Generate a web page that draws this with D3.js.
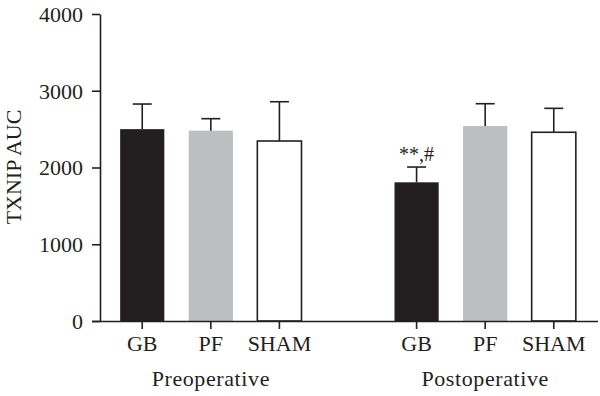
<!DOCTYPE html>
<html>
<head>
<meta charset="utf-8">
<script src="https://cdn.jsdelivr.net/npm/d3@7"></script>
<style>
  body { margin: 0; background: #fff; }
  text { font-family: "Liberation Serif", "DejaVu Serif", serif; fill: #231f20; }
</style>
</head>
<body>
<script>
// data
var groups = ['Preoperative', 'Postoperative'];
var treatments = ['GB', 'PF', 'SHAM'];
var preMeans = [2500, 2480, 2345];
var preErr = [2827, 2636, 2857];
var postMeans = [1807, 2541, 2459];
var postErr = [2006, 2831, 2771];
var yTicks = [0, 1000, 2000, 3000, 4000];
var fills = ['#231f20', '#bcbec0', '#ffffff'];

var ink = '#231f20';

var rows = [];
treatments.forEach(function (t, i) {
    rows.push({ key: 'pre-' + t, label: t, mean: preMeans[i], top: preErr[i], fill: fills[i], group: 0 });
});
var slots = rows.map(function (d) { return d.key; });
slots.push('gap');
treatments.forEach(function (t, i) {
    rows.push({ key: 'post-' + t, label: t, mean: postMeans[i], top: postErr[i], fill: fills[i], group: 1 });
    slots.push('post-' + t);
});

var svg = d3.select('body').append('svg')
    .attr('width', 600)
    .attr('height', 396);

var x = d3.scaleBand()
    .domain(slots)
    .range([98, 598])
    .paddingInner(0.356)
    .paddingOuter(0.323);

var y = d3.scaleLinear()
    .domain([0, 4000])
    .range([321, 14]);

// bars
svg.selectAll('rect.bar')
    .data(rows)
    .enter().append('rect')
    .attr('class', 'bar')
    .attr('x', function (d) { return x(d.key); })
    .attr('y', function (d) { return y(d.mean); })
    .attr('width', x.bandwidth())
    .attr('height', function (d) { return y(0) - y(d.mean); })
    .attr('fill', function (d) { return d.fill; })
    .attr('stroke', function (d) { return d.fill === '#ffffff' ? ink : 'none'; })
    .attr('stroke-width', 1.6);

// error bars (upper only)
var cap = 9.5;
rows.forEach(function (d) {
    var cx = x(d.key) + x.bandwidth() / 2;
    svg.append('line')
        .attr('x1', cx).attr('x2', cx)
        .attr('y1', y(d.mean)).attr('y2', y(d.top))
        .attr('stroke', ink).attr('stroke-width', 1.6);
    svg.append('line')
        .attr('x1', cx - cap).attr('x2', cx + cap)
        .attr('y1', y(d.top)).attr('y2', y(d.top))
        .attr('stroke', ink).attr('stroke-width', 1.6);
});

// significance mark
var gb = rows[3];
svg.append('text')
    .attr('x', x(gb.key) + x.bandwidth() / 2)
    .attr('y', y(gb.top) - 6)
    .attr('text-anchor', 'middle')
    .style('font-size', '20px')
    .text('**,#');

// y axis
var yAxis = svg.append('g')
    .attr('transform', 'translate(100,0)')
    .call(d3.axisLeft(y).tickValues(yTicks).tickSize(8).tickSizeOuter(0).tickFormat(d3.format('d')));
yAxis.selectAll('text').style('font-size', '22px').attr('x', -17).attr('dy', '0.34em');

// x axis
var xAxis = svg.append('g')
    .attr('transform', 'translate(0,321)')
    .call(d3.axisBottom(x).tickValues(rows.map(function (d) { return d.key; }))
        .tickSize(8).tickSizeOuter(0)
        .tickFormat(function (k) { return k.split('-')[1]; }));
xAxis.select('.domain').attr('d', 'M92,0.5H598');
xAxis.selectAll('text').style('font-size', '22px').attr('y', 14);

svg.selectAll('.domain, .tick line').attr('stroke', ink).attr('stroke-width', 1.6);
svg.selectAll('.tick text').attr('fill', ink);

// group labels
groups.forEach(function (g, i) {
    var mid = x(slots[i * 4 + 1]) + x.bandwidth() / 2;
    svg.append('text')
        .attr('x', mid)
        .attr('y', 386)
        .attr('text-anchor', 'middle')
        .style('font-size', '22px')
        .style('letter-spacing', '0.6px')
        .text(g);
});

// y title
svg.append('text')
    .attr('transform', 'translate(21,167) rotate(-90)')
    .attr('text-anchor', 'middle')
    .style('font-size', '22px')
    .text('TXNIP AUC');
</script>
</body>
</html>
